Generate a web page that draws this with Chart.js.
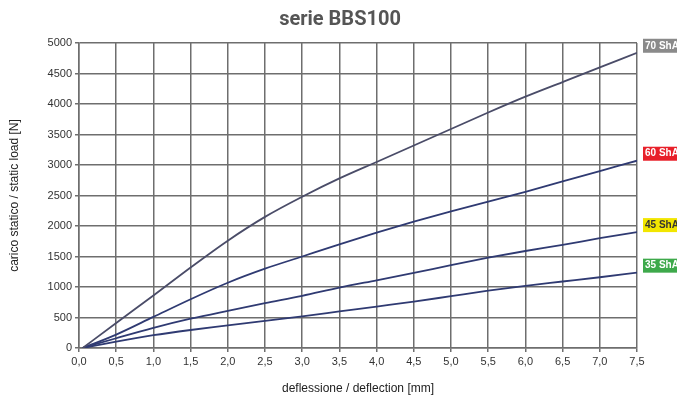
<!DOCTYPE html>
<html>
<head>
<meta charset="utf-8">
<script src="https://cdn.jsdelivr.net/npm/chart.js@4/dist/chart.umd.min.js"></script>
<style>
  body { margin: 0; background: #fff; }
  canvas { display: block; }
</style>
</head>
<body>
<canvas id="myChart" width="677" height="403"></canvas>
<script>
// deflection values (mm) where the curves were read
const deflection = [0.05, 0.5, 1.0, 1.5, 2.0, 2.5, 3.0, 3.5, 4.0, 4.5, 5.0, 5.5, 6.0, 6.5, 7.0, 7.5];

// static load (N) per hardness
const load70 = [0, 410, 860, 1320, 1760, 2150, 2480, 2780, 3050, 3320, 3590, 3860, 4120, 4360, 4600, 4840];
const load60 = [0, 220, 510, 800, 1070, 1300, 1500, 1700, 1890, 2070, 2240, 2400, 2560, 2730, 2900, 3070];
const load45 = [0, 160, 330, 480, 610, 735, 855, 990, 1110, 1230, 1360, 1480, 1590, 1690, 1800, 1900];
const load35 = [0, 105, 210, 295, 370, 445, 520, 600, 680, 760, 850, 940, 1020, 1090, 1160, 1235];

const seriesNames = ['70 ShA', '60 ShA', '45 ShA', '35 ShA'];
const tagColors = ['#8a8a8a', '#e8202a', '#f2e600', '#3ea94b'];
const tagText = ['#ffffff', '#ffffff', '#333333', '#ffffff'];
const lineColors = ['#4a4c68', '#2f3a72', '#2f3a72', '#2f3a72'];

const allLoads = [load70, load60, load45, load35];

const toPoints = (vals) => vals.map((v, i) => ({x: deflection[i], y: v}));

// title and the coloured hardness tags at the right edge
const extras = {
  id: 'extras',
  afterDraw(chart) {
    const ctx = chart.ctx;
    ctx.save();
    ctx.fillStyle = '#555555';
    ctx.font = 'bold 20px Roboto, "Liberation Sans", sans-serif';
    ctx.textAlign = 'center';
    ctx.textBaseline = 'middle';
    ctx.fillText('serie BBS100', 340, 20);

    const ys = chart.scales.y;
    ctx.font = 'bold 10px "Liberation Sans", Arial, sans-serif';
    ctx.textAlign = 'left';
    allLoads.forEach((vals, i) => {
      const yEnd = ys.getPixelForValue(vals[vals.length - 1]);
      ctx.fillStyle = tagColors[i];
      ctx.fillRect(643, yEnd - 14, 40, 14);
      ctx.fillStyle = tagText[i];
      ctx.fillText(seriesNames[i], 645, yEnd - 7);
    });
    ctx.restore();
  }
};

const ctx = document.getElementById('myChart').getContext('2d');
const chart = new Chart(ctx, {
  type: 'line',
  data: {
    datasets: allLoads.map((vals, i) => ({
      label: seriesNames[i],
      data: toPoints(vals),
      borderColor: lineColors[i],
      borderWidth: 1.8,
      pointRadius: 0,
      cubicInterpolationMode: 'monotone',
      fill: false
    }))
  },
  options: {
    responsive: false,
    animation: false,
    layout: { padding: { top: 43, right: 40, left: 0, bottom: 0 } },
    plugins: {
      legend: { display: false },
      title: { display: false },
      tooltip: { enabled: false }
    },
    scales: {
      x: {
        type: 'linear',
        min: 0,
        max: 7.5,
        ticks: {
          stepSize: 0.5,
          color: '#333',
          font: { family: '"Liberation Sans", Arial, sans-serif', size: 11 },
          padding: 3,
          callback: (v) => v.toFixed(1).replace('.', ',')
        },
        grid: { color: '#6e6e6e', lineWidth: 1.5, tickLength: 4 },
        border: { color: '#6e6e6e', width: 1.5 },
        title: {
          display: true,
          text: 'deflessione / deflection [mm]',
          color: '#222',
          font: { family: '"Liberation Sans", Arial, sans-serif', size: 12 },
          padding: { top: 0, bottom: 7 }
        },
        afterFit: (scale) => { scale.height = 55; }
      },
      y: {
        min: 0,
        max: 5000,
        ticks: {
          stepSize: 500,
          color: '#333',
          font: { family: '"Liberation Sans", Arial, sans-serif', size: 11 },
          padding: 3,
          callback: (v) => String(v)
        },
        grid: { color: '#6e6e6e', lineWidth: 1.5, tickLength: 4 },
        border: { color: '#6e6e6e', width: 1.5 },
        title: {
          display: true,
          text: 'carico statico / static load [N]',
          color: '#222',
          font: { family: '"Liberation Sans", Arial, sans-serif', size: 12 },
          padding: { top: 7, bottom: 0 }
        },
        afterFit: (scale) => { scale.width = 79; }
      }
    }
  },
  plugins: [extras]
});
</script>
</body>
</html>
